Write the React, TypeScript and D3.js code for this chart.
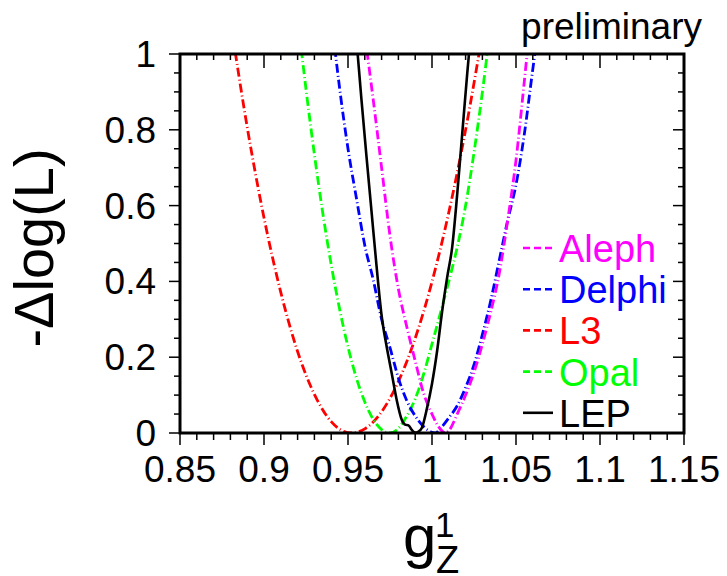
import React from "react";
import * as d3 from "d3";

// values (x = g_Z^1, y = -delta log L)
const alephX = [0.96, 0.965, 0.97, 0.975, 0.98, 0.985, 0.99, 0.995, 1.0, 1.005, 1.008, 1.01, 1.015, 1.02, 1.025, 1.03, 1.035, 1.04, 1.045, 1.05, 1.055, 1.06];
const alephY = [1.05, 0.88, 0.7, 0.52, 0.38, 0.28, 0.19, 0.105, 0.05, 0.01, 0.0, 0.006, 0.05, 0.1, 0.16, 0.235, 0.32, 0.42, 0.56, 0.72, 0.93, 1.15];

const delphiX = [0.94, 0.945, 0.95, 0.955, 0.96, 0.965, 0.97, 0.975, 0.98, 0.985, 0.99, 0.995, 1.0, 1.002, 1.005, 1.01, 1.015, 1.02, 1.025, 1.03, 1.035, 1.04, 1.045, 1.05, 1.055, 1.06, 1.065];
const delphiY = [1.1, 0.91, 0.75, 0.62, 0.495, 0.405, 0.3, 0.225, 0.145, 0.085, 0.045, 0.017, 0.002, 0.0, 0.012, 0.04, 0.072, 0.12, 0.18, 0.26, 0.35, 0.455, 0.56, 0.655, 0.79, 0.96, 1.12];

const l3X = [0.88, 0.89, 0.9, 0.91, 0.92, 0.93, 0.94, 0.952, 0.96, 0.97, 0.98, 0.99, 1.0, 1.01, 1.02, 1.03];
const l3Y = [1.089, 0.807, 0.568, 0.371, 0.215, 0.102, 0.03, 0.0, 0.011, 0.056, 0.136, 0.25, 0.399, 0.582, 0.8, 1.053];

const opalX = [0.92, 0.925, 0.93, 0.935, 0.94, 0.945, 0.95, 0.955, 0.96, 0.965, 0.97, 0.975, 0.98, 0.985, 0.99, 0.995, 1.0, 1.005, 1.01, 1.015, 1.02, 1.025, 1.03, 1.035];
const opalY = [1.097, 0.907, 0.735, 0.58, 0.444, 0.327, 0.227, 0.145, 0.082, 0.036, 0.009, 0.0, 0.012, 0.045, 0.09, 0.155, 0.235, 0.316, 0.4, 0.49, 0.6, 0.74, 0.9, 1.08];

const lepX = [0.955, 0.958, 0.961, 0.964, 0.967, 0.97, 0.973, 0.976, 0.979, 0.982, 0.984, 0.986, 0.988, 0.99, 0.992, 0.994, 0.997, 1.0, 1.003, 1.006, 1.009, 1.012, 1.015, 1.018, 1.021, 1.023];
const lepY = [1.04, 0.88, 0.73, 0.585, 0.44, 0.31, 0.228, 0.158, 0.087, 0.035, 0.022, 0.02, 0.008, 0.001, 0.004, 0.014, 0.065, 0.13, 0.215, 0.32, 0.41, 0.49, 0.63, 0.79, 0.95, 1.05];

const xTicks = [0.85, 0.9, 0.95, 1, 1.05, 1.1, 1.15];
const xTickLabels = ["0.85", "0.9", "0.95", "1", "1.05", "1.1", "1.15"];
const yTicks = [0, 0.2, 0.4, 0.6, 0.8, 1];
const yTickLabels = ["0", "0.2", "0.4", "0.6", "0.8", "1"];

const legendNames = ["Aleph", "Delphi", "L3", "Opal", "LEP"];

const FONT = "'Liberation Sans', Arial, Helvetica, sans-serif";
const DASH = "9,3,1,3";

const series = [
  { name: "L3", xs: l3X, ys: l3Y, color: "#ff0000", dash: DASH },
  { name: "Opal", xs: opalX, ys: opalY, color: "#00ff00", dash: DASH },
  { name: "Delphi", xs: delphiX, ys: delphiY, color: "#0000ff", dash: DASH },
  { name: "Aleph", xs: alephX, ys: alephY, color: "#ff00ff", dash: DASH },
  { name: "LEP", xs: lepX, ys: lepY, color: "#000000", dash: null },
];

export default function App() {
  const left = 180, right = 684, top = 54, bottom = 433;

  const x = d3.scaleLinear().domain([0.85, 1.15]).range([left, right]);
  const y = d3.scaleLinear().domain([0, 1]).range([bottom, top]);

  const line = d3.line<[number, number]>()
    .x(d => x(d[0]))
    .y(d => y(d[1]))
    .curve(d3.curveMonotoneX);

  const xMinor = d3.range(0, 31).map(i => 0.85 + i * 0.01);
  const yMinor = d3.range(0, 21).map(i => i * 0.05);

  return (
    <svg width={727} height={576} style={{ position: "absolute", left: 0, top: 0, background: "#fff" }}>
      <defs>
        <clipPath id="plotClip">
          <rect x={left} y={top} width={right - left} height={bottom - top} />
        </clipPath>
      </defs>

      {/* curves */}
      <g clipPath="url(#plotClip)">
        {series.map(s => (
          <path
            key={s.name}
            d={line(s.xs.map((v, i) => [v, s.ys[i]] as [number, number])) || ""}
            fill="none"
            stroke={s.color}
            strokeWidth={s.dash ? 2.8 : 2.6}
            strokeDasharray={s.dash || undefined}
          />
        ))}
      </g>

      {/* x ticks: bottom outside, top inside */}
      {xMinor.map((v, i) => {
        const major = i % 5 === 0;
        return (
          <g key={"xt" + i} stroke="#000" strokeWidth={1.5}>
            <line x1={x(v)} x2={x(v)} y1={bottom} y2={bottom + (major ? 12 : 7)} />
            <line x1={x(v)} x2={x(v)} y1={top} y2={top + (major ? 14 : 6)} />
          </g>
        );
      })}
      {/* y ticks: left outside, right inside */}
      {yMinor.map((v, i) => {
        const major = i % 4 === 0;
        return (
          <g key={"yt" + i} stroke="#000" strokeWidth={1.5}>
            <line x1={left} x2={left - (major ? 11 : 6)} y1={y(v)} y2={y(v)} />
            <line x1={right} x2={right - (major ? 11 : 6)} y1={y(v)} y2={y(v)} />
          </g>
        );
      })}

      {/* frame */}
      <rect x={left} y={top} width={right - left} height={bottom - top} fill="none" stroke="#000" strokeWidth={3} />

      {/* tick labels */}
      {xTicks.map((v, i) => (
        <text key={"xl" + i} x={x(v)} y={482} textAnchor="middle" fontFamily={FONT} fontSize={37}>
          {xTickLabels[i]}
        </text>
      ))}
      {yTicks.map((v, i) => (
        <text key={"yl" + i} x={156} y={y(v) + 13} textAnchor="end" fontFamily={FONT} fontSize={37}>
          {yTickLabels[i]}
        </text>
      ))}

      {/* axis titles */}
      <text transform="translate(53,248) rotate(-90)" textAnchor="middle" fontFamily={FONT} fontSize={56}>
        -Δlog(L)
      </text>
      <text x={403} y={557} fontFamily={FONT} fontSize={60}>g</text>
      <text x={435} y={537} fontFamily={FONT} fontSize={35}>1</text>
      <text x={436} y={573} fontFamily={FONT} fontSize={38}>Z</text>

      <text x={702} y={39} textAnchor="end" fontFamily={FONT} fontSize={37}>preliminary</text>

      {/* legend */}
      {legendNames.map((name, i) => {
        const s = series.find(d => d.name === name)!;
        const base = 262 + i * 41.2;
        return (
          <g key={"lg" + name}>
            <line x1={523} x2={553} y1={base - 14} y2={base - 14} stroke={s.color}
              strokeWidth={s.dash ? 2.6 : 2.6} strokeDasharray={s.dash ? "7,4" : undefined} />
            <text x={559} y={base} fontFamily={FONT} fontSize={38} fill={s.color}>{name}</text>
          </g>
        );
      })}
    </svg>
  );
}
